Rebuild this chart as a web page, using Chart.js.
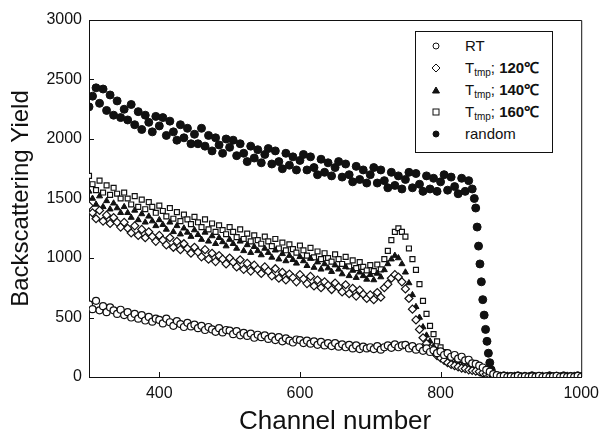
<!DOCTYPE html>
<html>
<head>
<meta charset="utf-8">
<script src="https://cdn.jsdelivr.net/npm/chart.js@4/dist/chart.umd.min.js"></script>
<style>
  body { margin: 0; background: #fff; }
  #wrap { position: relative; width: 606px; height: 442px; }
  #legend {
    position: absolute; left: 415px; top: 31px; width: 138px; height: 122px;
    box-sizing: border-box; border: 1px solid #111; background: #fff;
    padding-top: 3px; font-family: 'Liberation Sans', Arial, sans-serif; color: #111;
  }
  #legend .row { position: relative; height: 22px; line-height: 22px; font-size: 15px; }
  #legend svg { position: absolute; left: 15px; top: 6px; }
  #legend span { position: absolute; left: 49px; white-space: nowrap; }
  #legend b { font-weight: bold; }
  #legend sub { font-size: 10px; vertical-align: -3px; line-height: 0; }
</style>
</head>
<body>
<div id="wrap">
  <canvas id="rbsChart" width="606" height="442"></canvas>
  <div id="legend"></div>
</div>
<script>
// 通道 (x 軸)
const channels = [
  300, 305, 310, 315, 320, 325, 330, 335, 340, 345,
  350, 355, 360, 365, 370, 375, 380, 385, 390, 395,
  400, 405, 410, 415, 420, 425, 430, 435, 440, 445,
  450, 455, 460, 465, 470, 475, 480, 485, 490, 495,
  500, 505, 510, 515, 520, 525, 530, 535, 540, 545,
  550, 555, 560, 565, 570, 575, 580, 585, 590, 595,
  600, 605, 610, 615, 620, 625, 630, 635, 640, 645,
  650, 655, 660, 665, 670, 675, 680, 685, 690, 695,
  700, 705, 710, 715, 720, 725, 730, 735, 740, 745,
  750, 755, 760, 765, 770, 775, 780, 785, 790, 795,
  800, 805, 810, 815, 820, 825, 830, 835, 840, 845,
  850, 855, 860, 865, 870, 875, 880, 885, 890, 895,
  900, 905, 910, 915, 920, 925, 930, 935, 940, 945,
  950, 955, 960, 965, 970, 975, 980, 985, 990, 995,
  1000
];

const yieldRT = [
  610, 570, 640, 560, 595, 545, 585, 560, 530, 565,
  520, 545, 500, 530, 490, 520, 475, 505, 465, 490,
  480, 450, 490, 460, 430, 470, 445, 420, 455, 425,
  440, 410, 430, 395, 420, 400, 380, 410, 375, 395,
  390, 360, 385, 350, 370, 345, 365, 330, 355, 335,
  350, 320, 340, 310, 335, 300, 325, 305, 290, 315,
  310, 285, 305, 280, 300, 270, 295, 265, 285, 260,
  285, 255, 275, 250, 270, 240, 265, 235, 255, 240,
  250, 235, 260, 230, 250, 265, 245, 275, 250, 265,
  270, 240, 260, 230, 250, 220, 240, 210, 225, 200,
  215, 185, 200, 170, 185, 155, 170, 140, 145, 115,
  110, 95, 80, 60, 45, 25, 15, 5, 10, 0,
  5, 0, 10, 0, 5, 0, 5, 0, 10, 0,
  5, 0, 5, 10, 0, 5, 0, 5, 0, 10,
  0
];

const yield120 = [
  1440, 1380, 1330, 1400, 1310, 1360, 1290, 1340, 1300, 1260,
  1300, 1250, 1210, 1270, 1190, 1240, 1170, 1220, 1180, 1140,
  1190, 1150, 1110, 1170, 1090, 1140, 1070, 1120, 1080, 1040,
  1090, 1050, 1010, 1070, 990, 1040, 970, 1020, 990, 950,
  1000, 965, 925, 985, 905, 955, 890, 940, 905, 870,
  925, 890, 850, 910, 830, 880, 815, 865, 835, 800,
  860, 825, 785, 845, 765, 815, 750, 800, 770, 735,
  790, 755, 715, 775, 700, 745, 680, 730, 695, 660,
  690, 650, 710, 670, 750, 780, 830, 860, 840, 800,
  740, 660, 570, 480, 400, 330, 280, 240, 210, 180,
  160, 140, 120, 105, 95, 85, 75, 70, 60, 55,
  50, 45, 35, 25, 15, 5, 0, 5, 0, 5,
  0, 5, 0, 0, 5, 0, 5, 0, 0, 5,
  0, 5, 0, 5, 0, 0, 5, 0, 5, 0,
  0
];

const yield140 = [
  1560, 1500, 1450, 1520, 1430, 1480, 1410, 1460, 1420, 1380,
  1430, 1380, 1340, 1400, 1320, 1370, 1300, 1350, 1310, 1270,
  1320, 1280, 1240, 1300, 1220, 1270, 1200, 1250, 1215, 1180,
  1235, 1195, 1155, 1215, 1140, 1185, 1120, 1170, 1135, 1100,
  1155, 1120, 1080, 1140, 1060, 1110, 1045, 1095, 1060, 1025,
  1080, 1045, 1005, 1065, 990, 1035, 975, 1020, 985, 955,
  1010, 975, 935, 995, 920, 965, 905, 950, 915, 885,
  940, 905, 865, 925, 850, 895, 835, 880, 850, 820,
  860, 815, 870, 840, 900, 950, 990, 1020, 1000, 950,
  880, 790, 690, 590, 500, 420, 350, 300, 255, 225,
  200, 175, 150, 130, 115, 100, 90, 80, 75, 65,
  55, 45, 35, 25, 15, 5, 0, 5, 0, 0,
  5, 0, 0, 5, 0, 0, 5, 0, 5, 0,
  0, 0, 5, 0, 5, 0, 0, 5, 0, 0,
  0
];

const yield160 = [
  1690, 1620, 1570, 1650, 1550, 1610, 1530, 1590, 1540, 1500,
  1550, 1500, 1450, 1520, 1430, 1490, 1410, 1470, 1430, 1380,
  1440, 1395, 1350, 1420, 1330, 1385, 1310, 1365, 1325, 1285,
  1345, 1300, 1260, 1325, 1240, 1290, 1220, 1275, 1235, 1200,
  1260, 1220, 1175, 1240, 1160, 1205, 1140, 1190, 1150, 1120,
  1180, 1140, 1100, 1160, 1080, 1130, 1065, 1115, 1075, 1045,
  1105, 1065, 1020, 1085, 1005, 1055, 990, 1040, 1000, 970,
  1030, 990, 950, 1010, 930, 980, 915, 965, 925, 895,
  940, 890, 945, 905, 990, 1060, 1150, 1220, 1250, 1220,
  1180, 1080, 990, 900, 780, 640, 530, 430, 360, 300,
  250, 210, 175, 150, 130, 115, 100, 90, 80, 70,
  60, 45, 30, 20, 10, 5, 0, 5, 0, 0,
  0, 5, 0, 5, 0, 0, 5, 0, 0, 5,
  5, 0, 0, 5, 0, 5, 0, 0, 5, 0,
  0
];

// random 的通道比較密 (邊緣處)
const randomChannels = [
  300, 305, 310, 315, 320, 325, 330, 335, 340, 345,
  350, 355, 360, 365, 370, 375, 380, 385, 390, 395,
  400, 405, 410, 415, 420, 425, 430, 435, 440, 445,
  450, 455, 460, 465, 470, 475, 480, 485, 490, 495,
  500, 505, 510, 515, 520, 525, 530, 535, 540, 545,
  550, 555, 560, 565, 570, 575, 580, 585, 590, 595,
  600, 605, 610, 615, 620, 625, 630, 635, 640, 645,
  650, 655, 660, 665, 670, 675, 680, 685, 690, 695,
  700, 705, 710, 715, 720, 725, 730, 735, 740, 745,
  750, 755, 760, 765, 770, 775, 780, 785, 790, 795,
  800, 805, 810, 815, 820, 825, 830, 835, 840, 845,
  848, 850, 852, 854, 856, 858, 860, 862, 864, 866,
  868, 870, 872, 874, 876, 878, 880,
  885, 890, 895, 900, 905, 910, 915, 920, 925, 930,
  935, 940, 945, 950, 955, 960, 965, 970, 975, 980,
  985, 990, 995, 1000
];

const yieldRandom = [
  2270, 2360, 2430, 2300, 2420, 2240, 2370, 2200, 2320, 2180,
  2250, 2160, 2290, 2120, 2230, 2080, 2200, 2140, 2060, 2190,
  2110, 2180, 2030, 2150, 2060, 1990, 2120, 2010, 2090, 1960,
  2040, 1960, 2090, 1940, 2030, 1900, 2010, 1950, 1880, 2000,
  1930, 1990, 1860, 1960, 1880, 1810, 1940, 1840, 1910, 1800,
  1870, 1920, 1790, 1900, 1810, 1750, 1880, 1780, 1850, 1740,
  1820, 1870, 1740, 1850, 1760, 1700, 1830, 1720, 1800, 1690,
  1760, 1810, 1680, 1790, 1700, 1640, 1770, 1660, 1740, 1630,
  1700, 1760, 1630, 1740, 1650, 1590, 1720, 1610, 1690, 1580,
  1660, 1720, 1590, 1710, 1620, 1560, 1690, 1580, 1670, 1560,
  1640, 1700, 1570, 1680, 1600, 1540, 1670, 1560, 1650, 1580,
  1500, 1420, 1260, 1100, 950, 800, 650, 520, 400, 300,
  200, 120, 60, 20, 5, 0, 0,
  0, 10, 0, 5, 0, 10, 0, 5, 0, 10,
  0, 5, 0, 0, 10, 0, 5, 0, 10, 0,
  5, 0, 10, 0
];

const xTicks = [400, 600, 800, 1000];
const yTicks = [0, 500, 1000, 1500, 2000, 2500, 3000];

function toPoints(xs, ys) {
  return xs.map((x, i) => ({ x: x, y: ys[i] }));
}

// 外框和朝內的刻度
const framePlugin = {
  id: 'frame',
  afterDatasetsDraw(chart) {
    const { ctx, chartArea: a, scales } = chart;
    ctx.save();
    ctx.strokeStyle = '#111';
    ctx.lineWidth = 1;
    ctx.beginPath();
    ctx.moveTo(a.left, a.top + 0.5);
    ctx.lineTo(a.right + 0.5, a.top + 0.5);
    ctx.lineTo(a.right + 0.5, a.bottom);
    scales.x.ticks.forEach(t => {
      const px = Math.round(scales.x.getPixelForValue(t.value)) + 0.5;
      ctx.moveTo(px, a.bottom);
      ctx.lineTo(px, a.bottom - 5);
    });
    scales.y.ticks.forEach(t => {
      const py = Math.round(scales.y.getPixelForValue(t.value)) + 0.5;
      ctx.moveTo(a.left, py);
      ctx.lineTo(a.left + 5, py);
    });
    ctx.stroke();
    ctx.restore();
  }
};

const font = "'Liberation Sans', Arial, sans-serif";
Chart.defaults.font.family = font;
Chart.defaults.color = '#111';

const ctx = document.getElementById('rbsChart').getContext('2d');
const rbsChart = new Chart(ctx, {
  type: 'scatter',
  data: {
    datasets: [
      { label: 'RT', data: toPoints(channels, yieldRT), pointStyle: 'circle', pointRadius: 3.5,
        borderColor: '#111', backgroundColor: '#fff', borderWidth: 1.2 },
      { label: '120', data: toPoints(channels, yield120), pointStyle: 'rectRot', pointRadius: 4,
        borderColor: '#111', backgroundColor: '#fff', borderWidth: 1.2 },
      { label: '140', data: toPoints(channels, yield140), pointStyle: 'triangle', pointRadius: 3.5,
        borderColor: '#111', backgroundColor: '#111', borderWidth: 1 },
      { label: '160', data: toPoints(channels, yield160), pointStyle: 'rect', pointRadius: 3.5,
        borderColor: '#111', backgroundColor: '#fff', borderWidth: 1.2 },
      { label: 'random', data: toPoints(randomChannels, yieldRandom), pointStyle: 'circle', pointRadius: 4,
        borderColor: '#111', backgroundColor: '#111', borderWidth: 1 }
    ]
  },
  options: {
    responsive: false,
    animation: false,
    layout: { padding: { top: 20, right: 21, left: 0, bottom: 0 } },
    plugins: { legend: { display: false }, tooltip: { enabled: false } },
    scales: {
      x: {
        type: 'linear', min: 300, max: 1000,
        afterBuildTicks: s => { s.ticks = xTicks.map(v => ({ value: v })); },
        afterFit: s => { s.height = 65; },
        grid: { display: false, drawTicks: false },
        border: { display: true, color: '#111', width: 1 },
        ticks: { padding: 7, font: { size: 16 }, color: '#111', callback: v => String(v) },
        title: { display: true, text: 'Channel number', font: { size: 26 }, color: '#111',
          padding: { top: 0, bottom: 5 } }
      },
      y: {
        min: 0, max: 3000,
        afterBuildTicks: s => { s.ticks = yTicks.map(v => ({ value: v })); },
        afterFit: s => { s.width = 89; },
        grid: { display: false, drawTicks: false },
        border: { display: true, color: '#111', width: 1 },
        ticks: { padding: 7, font: { size: 16 }, color: '#111', callback: v => String(v) },
        title: { display: true, text: 'Backscattering Yield', font: { size: 24 }, color: '#111',
          padding: { top: 7, bottom: 0 } }
      }
    }
  },
  plugins: [framePlugin]
});

// 圖例 (下標用 HTML)
const legendItems = [
  { marker: '<circle cx="5" cy="5" r="3" fill="#fff" stroke="#111"/>', html: 'RT' },
  { marker: '<path d="M5 1 L9 5 L5 9 L1 5 Z" fill="#fff" stroke="#111"/>', html: 'T<sub>tmp</sub>; <b>120℃</b>' },
  { marker: '<path d="M5 2 L8.5 8 L1.5 8 Z" fill="#111" stroke="#111"/>', html: 'T<sub>tmp</sub>; <b>140℃</b>' },
  { marker: '<rect x="2" y="2" width="6" height="6" fill="#fff" stroke="#111"/>', html: 'T<sub>tmp</sub>; <b>160℃</b>' },
  { marker: '<circle cx="5" cy="5" r="3" fill="#111" stroke="#111"/>', html: 'random' }
];
document.getElementById('legend').innerHTML = legendItems.map(it =>
  `<div class="row"><svg width="10" height="10">${it.marker}</svg><span>${it.html}</span></div>`
).join('');
</script>
</body>
</html>
